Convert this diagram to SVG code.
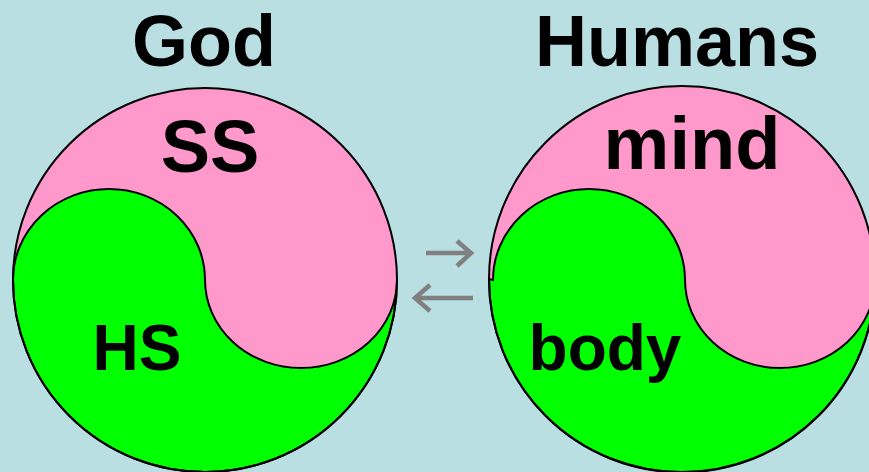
<svg xmlns="http://www.w3.org/2000/svg" width="869" height="472" viewBox="0 0 869 472">
<style>
.bg{fill:#b9dfe3}
.pink{fill:#ff99cc;stroke:none}
.green{fill:#00ff00;stroke:#000;stroke-width:2}
.ring{fill:none;stroke:#000;stroke-width:2}
.t{font-family:"Liberation Sans",Arial,sans-serif;font-weight:bold;fill:#000;text-anchor:middle}
.arr{fill:none;stroke:#808080;stroke-width:4.5;stroke-linecap:butt;stroke-linejoin:miter}
</style>
<rect class="bg" x="0" y="0" width="869" height="472"/>
<g id="god">
<text class="t" x="204" y="66" font-size="72">God</text>
<circle class="pink" cx="205" cy="280" r="192"/>
<path class="green" d="M13,280 A96,91 0 0 1 205,280 A96,88 0 0 0 397,280 A192,192 0 0 1 13,280 Z"/>
<circle class="ring" cx="205" cy="280" r="192"/>
<text class="t" x="210" y="172" font-size="74">SS</text>
<text class="t" x="137" y="370" font-size="64">HS</text>
</g>
<g id="humans">
<text class="t" x="677" y="66" font-size="72">Humans</text>
<circle class="pink" cx="682" cy="279" r="193"/>
<path class="green" d="M493,280 A96,91 0 0 1 685,280 A95,88 0 0 0 875,280 A193,193 0 0 1 489,279 L493,280 Z"/>
<circle class="ring" cx="682" cy="279" r="193"/>
<text class="t" x="692" y="169" font-size="74">mind</text>
<text class="t" x="605" y="370" font-size="64">body</text>
</g>
<g id="connectors">
<path class="arr" d="M426,253 H470 M457,241 L471,253 L457,266"/>
<path class="arr" d="M473,298 H416 M430,285 L415,298 L430,311"/>
</g>
</svg>
